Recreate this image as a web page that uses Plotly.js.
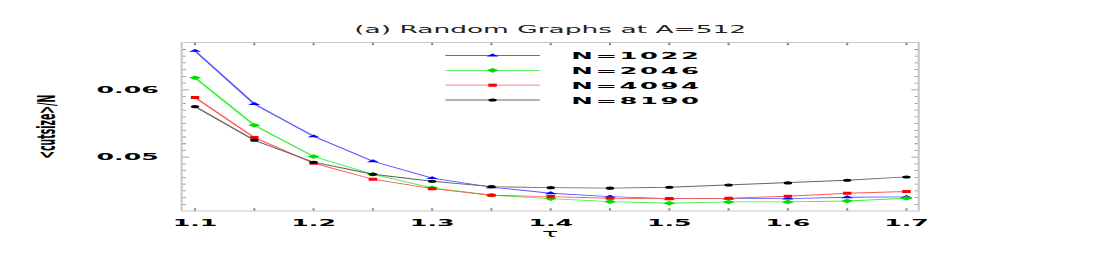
<!DOCTYPE html>
<html><head><meta charset="utf-8">
<script src="https://cdn.plot.ly/plotly-3.0.1.min.js"></script>
<style>
html,body{margin:0;padding:0;overflow:hidden;background:#fff;width:1100px;height:255px;}
#wrap{width:1100px;height:255px;overflow:hidden;position:relative;background:#fff;}
#chart{position:absolute;left:0;top:0;width:524px;height:327px;transform:scale(2.1,0.78);transform-origin:0 0;}
.legendtext{letter-spacing:1.2px;transform:translateX(10px);}
.legend .scrollbox{clip-path:none !important;}
</style></head><body><div id="wrap"><div id="chart"></div></div>
<script>
const tau = [1.1, 1.15, 1.2, 1.25, 1.3, 1.35, 1.4, 1.45, 1.5, 1.55, 1.6, 1.65, 1.7];
const seriesNames = ['N=1022', 'N=2046', 'N=4094', 'N=8190'];
const n1022 = [0.0658, 0.0579, 0.0531, 0.0494, 0.0469, 0.04555, 0.04465, 0.04415, 0.04385, 0.04385, 0.04385, 0.04405, 0.0441];
const n2046 = [0.0618, 0.05475, 0.0501, 0.04747, 0.04544, 0.04435, 0.04385, 0.0434, 0.04316, 0.04336, 0.04336, 0.0435, 0.0439];
const n4094 = [0.05886, 0.05291, 0.04911, 0.04673, 0.04534, 0.04435, 0.04415, 0.0439, 0.04385, 0.0439, 0.0442, 0.04465, 0.0449];
const n8190 = [0.05752, 0.05253, 0.04926, 0.04747, 0.04643, 0.04563, 0.04548, 0.0454, 0.04554, 0.04588, 0.04618, 0.04658, 0.04707];

const values = [n1022, n2046, n4094, n8190];
const lineColors = ['#5a5aff', '#3cf03c', '#ff5a5a', '#666666'];
const markerColors = ['#0000ff', '#00e000', '#ff0000', '#000000'];
const symbols = ['triangle-up', 'diamond', 'square', 'circle'];
const sizes = [5, 4.5, 4, 4];

const traces = values.map((v, i) => ({
  x: tau, y: v, name: seriesNames[i], type: 'scatter', mode: 'lines+markers',
  line: {color: lineColors[i], width: 1.1},
  marker: {color: markerColors[i], symbol: symbols[i], size: sizes[i], line: {width: 0}}
}));

const tickFont = {family: 'DejaVu Sans', weight: 'bold', size: 12, color: '#000'};
const layout = {
  width: 524, height: 327,
  margin: {l: 87, r: 87, t: 55, b: 57, pad: 0},
  paper_bgcolor: '#fff', plot_bgcolor: '#fff',
  showlegend: true,
  title: {text: '(a) Random Graphs at A=512', font: {family: 'DejaVu Sans', size: 12.6, color: '#222'},
          x: 0.5, xanchor: 'center', y: 0.886, yanchor: 'middle', yref: 'container'},
  xaxis: {
    range: [1.0896, 1.7095], tick0: 1.1, dtick: 0.1, tickformat: '.1f',
    ticks: 'inside', ticklen: 3, tickwidth: 1, tickcolor: '#888',
    showline: true, linecolor: '#c8c8c8', linewidth: 1, mirror: 'ticks',
    showgrid: false, zeroline: false, tickfont: tickFont, ticklabelstandoff: 4,
    minor: {tick0: 1.1, dtick: 0.05, ticks: 'inside', ticklen: 3, tickcolor: '#888', showgrid: false},
    title: {text: 'τ', font: {family: 'DejaVu Sans', size: 13, color: '#000'}, standoff: 0}
  },
  yaxis: {
    range: [0.04207, 0.06698], tick0: 0.05, dtick: 0.01, tickformat: '.2f',
    ticks: 'inside', ticklen: 3, tickwidth: 1, tickcolor: '#888',
    showline: true, linecolor: '#c8c8c8', linewidth: 1, mirror: 'ticks',
    showgrid: false, zeroline: false, tickfont: tickFont, ticklabelstandoff: 8,
    minor: {tick0: 0.05, dtick: 0.001, ticks: 'inside', ticklen: 1.5, tickcolor: '#888', showgrid: false},
    title: {text: '&lt;cutsize&gt;/N', font: {family: 'DejaVu Sans', weight: 'bold', size: 12, color: '#000'}, standoff: 16}
  },
  legend: {
    x: 0.343, y: 0.992, xanchor: 'left', yanchor: 'top',
    bgcolor: 'rgba(0,0,0,0)', borderwidth: 0, itemwidth: 45, tracegroupgap: 0,
    font: {family: 'DejaVu Sans', weight: 'bold', size: 12.3, color: '#000'}
  }
};

Plotly.newPlot('chart', traces, layout, {staticPlot: true, displayModeBar: false, responsive: false});
</script>
</body></html>
